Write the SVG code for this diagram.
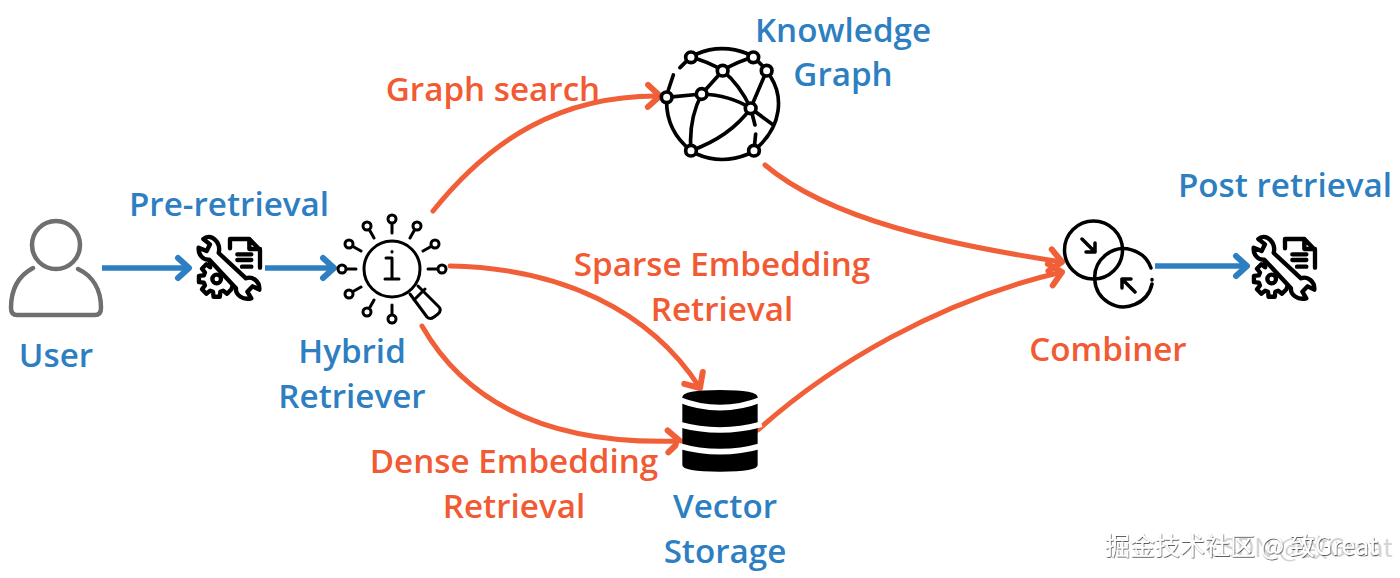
<svg xmlns="http://www.w3.org/2000/svg" width="1400" height="578" viewBox="0 0 1400 578">
<style>
.t{font-family:"Open Sans","Liberation Sans",sans-serif;font-size:33.2px;font-weight:600;text-anchor:middle}
.b{fill:#2e7fc1}.o{fill:#f15a32}
.ol{fill:none;stroke:#f15f38;stroke-width:5;stroke-linecap:round}
.bl{fill:none;stroke:#2e7fc1;stroke-width:5.500}
.k{fill:none;stroke:#000;stroke-linecap:round;stroke-linejoin:round}
.wm{font-family:"Noto Sans CJK SC","Liberation Sans",sans-serif;font-size:25px}
.wb{font-size:25.5px;fill:#d4d4d4}
</style>
<defs>
<marker id="ao" markerUnits="userSpaceOnUse" markerWidth="30" markerHeight="30" refX="15" refY="15" orient="auto" overflow="visible"><path d="M3 4L15 15L3 26" fill="none" stroke="#f15f38" stroke-width="6" stroke-linecap="round" stroke-linejoin="round"/></marker>
<marker id="ab" markerUnits="userSpaceOnUse" markerWidth="30" markerHeight="30" refX="15" refY="15" orient="auto" overflow="visible"><path d="M4 5L15 15L4 25" fill="none" stroke="#2e7fc1" stroke-width="6" stroke-linecap="round" stroke-linejoin="round"/></marker>
<filter id="sh" x="-5%" y="-20%" width="110%" height="140%"><feDropShadow dx="0.6" dy="0.8" stdDeviation="0.6" flood-color="#222" flood-opacity="0.9"/></filter>
<g id="tool" class="k" stroke-width="13">
<path d="M76 45C64 32 48 34 40 42L60 58L50 78L26 68C24 88 38 106 58 104L138 190C136 210 158 226 184 220L172 200L188 184L208 194C210 170 188 152 168 160L86 84C90 68 86 55 76 45Z"/>
<path d="M60 112L60.600 127L49 117.800L35.800 131L45 142.600L41.600 151L26.800 152.600L26.800 171.400L41.600 173L45 181.400L35.800 193L49 206.200L60.600 197L69 200.400L70.600 215.200L89.400 215.200L91 200.400L99.400 197L111 206.200L124.200 193L128 182"/>
<circle cx="80" cy="162" r="13"/>
<path d="M120 70V42H178L210 75V128M178 42V72H210"/>
<path d="M142 88H184M142 105H184M156 125H184"/>
</g>
</defs>
<g id="connectors">
<path class="bl" marker-end="url(#ab)" d="M102 268H189"/>
<path class="bl" marker-end="url(#ab)" d="M265 268H334"/>
<path class="bl" marker-end="url(#ab)" d="M1155 266H1247"/>
<path class="ol" marker-end="url(#ao)" d="M433 211C490 140 560 95 660 96"/>
<path class="ol" marker-end="url(#ao)" d="M450 266C560 268 650 310 700 388"/>
<path class="ol" marker-end="url(#ao)" d="M422 326C470 410 560 445 680 441"/>
<path class="ol" marker-end="url(#ao)" d="M765 165C830 220 950 245 1062 262"/>
<path class="ol" marker-end="url(#ao)" d="M758 430C830 365 940 300 1062 272"/>
</g>
<g id="user">
<circle cx="56" cy="245" r="24" fill="none" stroke="#6f6f6f" stroke-width="4.500"/>
<path d="M33 268C18 276 11 290 11 308Q11 315 17 315H95Q101 315 101 308C101 290 93 276 78 269" fill="none" stroke="#6f6f6f" stroke-width="4.500" stroke-linecap="round"/>
<text class="t b" x="56" y="367">User</text>
</g>
<g id="pre-tool"><use href="#tool" transform="translate(190 225) scale(.3333)"/></g>
<text class="t b" x="229" y="216">Pre-retrieval</text>
<g id="hybrid-retriever">
<g class="k" stroke-width="3" transform="translate(330 210)">
<circle cx="62" cy="59" r="28"/>
<path d="M62 23V14M80 28L84.500 20M93 41L101 36.500M98 59H107M26 59H17M31 41L23 36.500M44 28L39.500 20M31 77L23 81.500M44 90L39.500 98M62 95V104"/>
<circle cx="62" cy="9" r="4"/><circle cx="87" cy="16" r="4"/><circle cx="105" cy="34" r="4"/><circle cx="112" cy="59" r="4"/><circle cx="12" cy="59" r="4"/><circle cx="19" cy="34" r="4"/><circle cx="37" cy="16" r="4"/><circle cx="19" cy="84" r="4"/><circle cx="37" cy="102" r="4"/><circle cx="62" cy="109" r="4"/>
<path d="M56 48H62V69M55 69H69M62 41.500V42"/>
<path d="M88 76L109 97Q112 100 108 104L104 107Q100 110 97 107L80 84M84 90L95 79"/>
</g>
<text class="t b" x="352" y="363">Hybrid</text>
<text class="t b" x="352" y="408">Retriever</text>
</g>
<g id="knowledge-graph">
<g class="k" stroke-width="11" transform="translate(640 30) scale(.3333)">
<path d="M170 72Q245 40 325 72M355 95L370 110M392 140C430 200 425 285 355 350M325 372Q245 405 170 372M80 202Q75 300 153 362M100 135L85 180M120 113L138 95M153 82Q205 95 248 122M340 82Q290 95 248 122M248 122L185 192M248 122Q300 165 332 235M380 122L332 235M80 202L185 192M185 192Q270 195 332 235M185 192Q145 270 153 362M153 362Q270 320 332 235M332 235L400 285M332 235L345 285M347 312L342 362"/>
<g fill="#fff"><circle cx="153" cy="82" r="16"/><circle cx="340" cy="82" r="16"/><circle cx="248" cy="122" r="16"/><circle cx="380" cy="122" r="16"/><circle cx="185" cy="192" r="16"/><circle cx="80" cy="202" r="16"/><circle cx="332" cy="235" r="16"/><circle cx="153" cy="362" r="16"/><circle cx="342" cy="362" r="16"/></g>
</g>
<text class="t b" x="843" y="42">Knowledge</text>
<text class="t b" x="843" y="86">Graph</text>
</g>
<g id="vector-storage">
<g transform="translate(660 380) scale(.3333)">
<path d="M67 52Q67 30 180 30Q293 30 293 52V255Q293 275 180 275Q67 275 67 255Z"/>
<g fill="none" stroke="#fff" stroke-width="17"><path d="M55 58Q180 108 305 58"/><path d="M55 133Q180 167 305 133"/><path d="M55 197Q180 233 305 197"/></g>
</g>
<text class="t b" x="725" y="518">Vector</text>
<text class="t b" x="725" y="563">Storage</text>
</g>
<g id="combiner">
<circle cx="1093.500" cy="250" r="29" fill="none" stroke="#000" stroke-width="3.500"/>
<path class="k" stroke-width="3.500" d="M1151 268A29 29 0 1 0 1152 284M1152 279.500V280M1082 239L1095 252M1095 243V252H1086M1135 292L1122 279M1122 288V279H1131"/>
<text class="t o" x="1108" y="361">Combiner</text>
</g>
<g id="post-tool"><use href="#tool" transform="translate(1245 225) scale(.3333)"/></g>
<text class="t b" x="1285" y="197">Post retrieval</text>
<g id="edge-labels">
<text class="t o" x="493" y="101">Graph search</text>
<text class="t o" x="722" y="276">Sparse Embedding</text>
<text class="t o" x="722" y="321">Retrieval</text>
<text class="t o" x="514" y="473">Dense Embedding</text>
<text class="t o" x="514" y="518">Retrieval</text>
</g>
<g id="watermark">
<text class="wm wb" x="1206" y="557">CSDN @致Great</text>
<text class="wm" x="1105" y="555" fill="#fff" filter="url(#sh)">掘金技术社区 @ 致Great</text>
</g>
</svg>
